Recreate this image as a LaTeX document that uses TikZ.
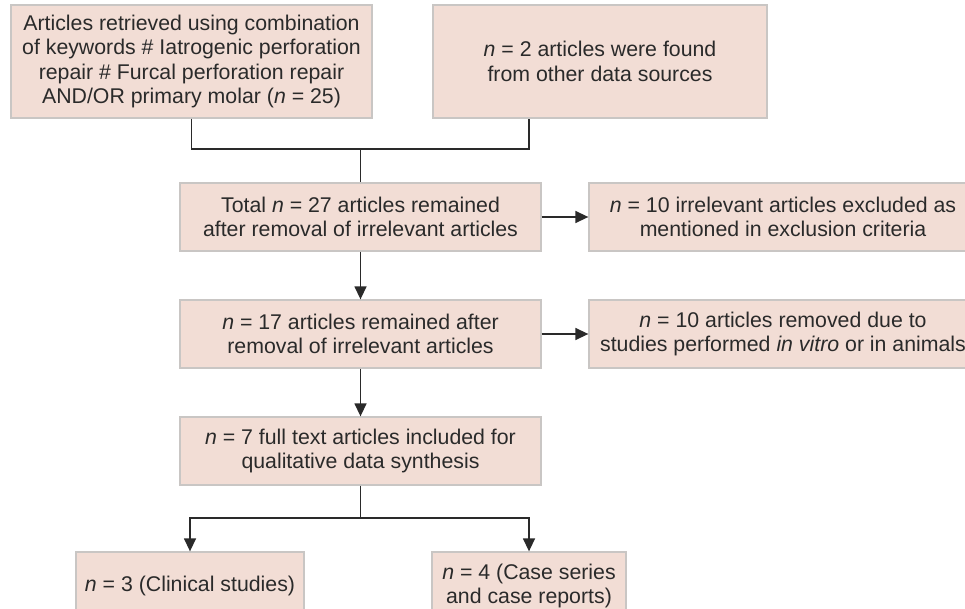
\documentclass[tikz,border=0pt]{standalone}
\usepackage{fontspec}
\setmainfont{Liberation Sans}
\usetikzlibrary{arrows.meta}
\definecolor{boxfill}{HTML}{F2DDD5}
\definecolor{boxline}{HTML}{C9C6C4}
\definecolor{inkgray}{HTML}{2A2A2A}

\begin{document}
\begin{tikzpicture}[x=1pt, y=-1pt,
    stage/.style={draw=boxline, line width=1.3pt, fill=boxfill, text=inkgray, align=center,
        inner sep=0pt, font=\fontsize{21.3}{24.6}\selectfont},
    link/.style={draw=inkgray, line width=1.4pt},
    flow/.style={link, -{Triangle[length=13pt, width=12pt]}}]
\useasboundingbox (0,0) rectangle (965,609);

\node[stage, minimum width=361pt, minimum height=113pt] (search) at (191.5,61.5)
    {Articles retrieved using combination\\of keywords \# Iatrogenic perforation\\repair \# Furcal perforation repair\\AND/OR primary molar (\textit{n} = 25)};
\node[stage, minimum width=334pt, minimum height=113pt] (other) at (600,61.5)
    {\textit{n} = 2 articles were found\\from other data sources};
\node[stage, minimum width=361pt, minimum height=68pt] (total) at (360.5,217)
    {Total \textit{n} = 27 articles remained\\after removal of irrelevant articles};
\node[stage, minimum width=361pt, minimum height=68pt] (remain) at (360.5,334)
    {\textit{n} = 17 articles remained after\\removal of irrelevant articles};
\node[stage, minimum width=388pt, minimum height=68pt] (excl) at (783,217)
    {\textit{n} = 10 irrelevant articles excluded as\\mentioned in exclusion criteria};
\node[stage, minimum width=388pt, minimum height=68pt] (vitro) at (783,334)
    {\textit{n} = 10 articles removed due to\\studies performed \textit{in vitro} or in animals};
\node[stage, minimum width=361pt, minimum height=68pt] (full) at (360.5,451)
    {\textit{n} = 7 full text articles included for\\qualitative data synthesis};
\node[stage, minimum width=228pt, minimum height=68pt] (clin) at (190,586)
    {\textit{n} = 3 (Clinical studies)};
\node[stage, minimum width=194pt, minimum height=68pt] (cases) at (529,586)
    {\textit{n} = 4 (Case series\\and case reports)};

\coordinate (join) at (360.5,149);
\coordinate (joinr) at (529,149);
\coordinate (split) at (360.5,518);

\draw[link] (search.south) |- (joinr) -- (joinr |- other.south);
\draw[link] (join) -- (total.north);
\draw[flow] (total) -- (remain);
\draw[flow] (remain) -- (full);
\draw[flow] (total.east) -- (excl.west);
\draw[flow] (remain.east) -- (vitro.west);
\draw[link] (full.south) -- (split);
\draw[flow] (split) -| (clin.north);
\draw[flow] (split) -| (cases.north);
\end{tikzpicture}
\end{document}
